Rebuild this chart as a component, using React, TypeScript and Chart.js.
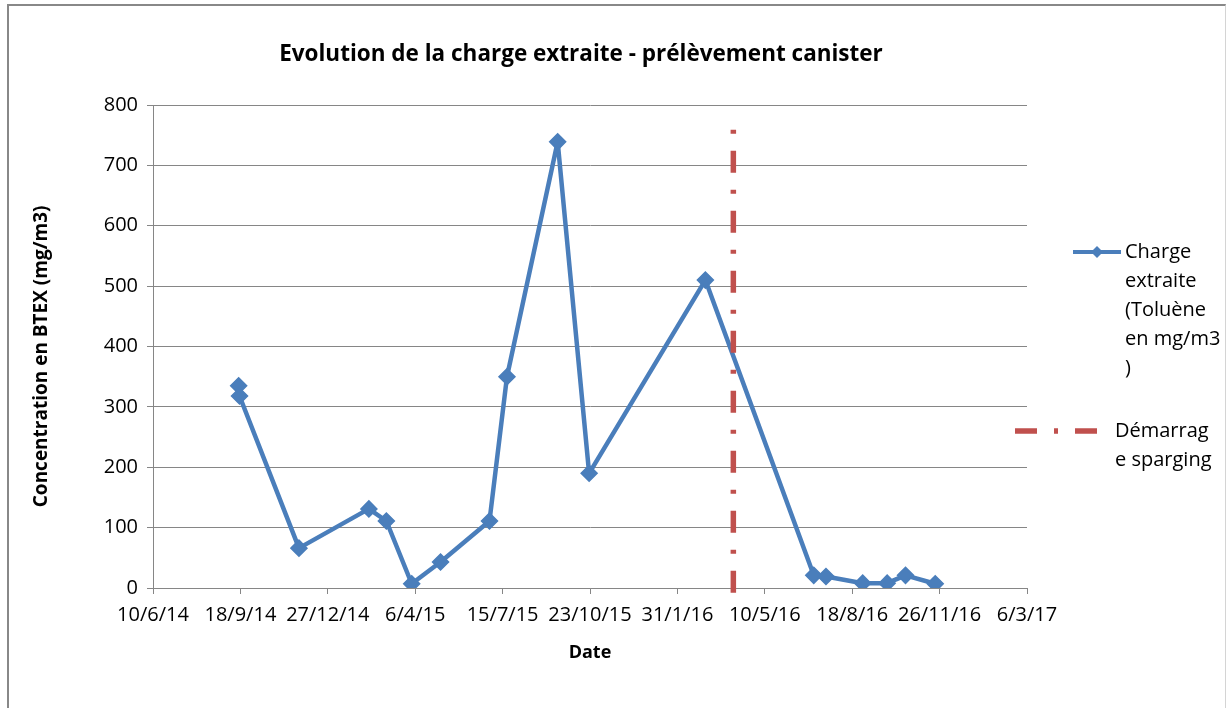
import React, { useEffect, useRef } from "react";
import { Chart, registerables } from "chart.js";

Chart.register(...registerables);

// ---- Data ----
const sampleDates = [
  "2014-09-16", "2014-09-17", "2014-11-24", "2015-02-12", "2015-03-04", "2015-04-02",
  "2015-05-05", "2015-06-30", "2015-07-20", "2015-09-16", "2015-10-22", "2016-03-03",
  "2016-07-05", "2016-07-19", "2016-08-30", "2016-09-27", "2016-10-18", "2016-11-21",
];
const chargeValues = [335, 318, 66, 131, 111, 7, 43, 111, 350, 739, 190, 510, 21, 19, 8, 8, 21, 7];

const spargingDate = "2016-04-04";
const spargingValues = [-8, 765];

const xAxisStart = "2014-06-10";
const xAxisEnd = "2017-03-06";
const xTickStepDays = 100;
const yMin = 0;
const yMax = 800;
const yStep = 100;

const chartTitle = "Evolution de la charge extraite - prélèvement canister";
const xAxisTitle = "Date";
const yAxisTitle = "Concentration en BTEX (mg/m3)";
const chargeLegendLines = ["Charge", "extraite", "(Toluène", "en mg/m3", ")"];
const spargingLegendLines = ["Démarrag", "e sparging"];

// ---- Helpers ----
const EXCEL_EPOCH = Date.UTC(1899, 11, 30);
const DAY = 86400000;
function toSerial(iso: string): number {
  const [y, m, d] = iso.split("-").map(Number);
  return Math.round((Date.UTC(y, m - 1, d) - EXCEL_EPOCH) / DAY);
}
function serialLabel(serial: number): string {
  const dt = new Date(EXCEL_EPOCH + serial * DAY);
  return `${dt.getUTCDate()}/${dt.getUTCMonth() + 1}/${dt.getUTCFullYear() % 100}`;
}

const BLUE = "#4A7EBB";
const RED = "#C0504D";
const GRID = "#868686";
const FONT = "'Open Sans', 'Noto Sans', sans-serif";
const DASH = [22, 17, 4, 17];

const overlayPlugin = {
  id: "overlayTexts",
  afterDraw(chart: any) {
    const ctx = chart.ctx as CanvasRenderingContext2D;
    ctx.save();
    // Title
    ctx.fillStyle = "#000";
    ctx.font = `bold 22.5px ${FONT}`;
    ctx.textAlign = "center";
    ctx.textBaseline = "middle";
    ctx.fillText(chartTitle, 581, 55);

    // Legend: charge extraite
    ctx.strokeStyle = BLUE;
    ctx.lineWidth = 4;
    ctx.beginPath();
    ctx.moveTo(1073, 252);
    ctx.lineTo(1121, 252);
    ctx.stroke();
    ctx.fillStyle = BLUE;
    ctx.beginPath();
    ctx.moveTo(1097 - 6, 252);
    ctx.lineTo(1097, 252 - 6);
    ctx.lineTo(1097 + 6, 252);
    ctx.lineTo(1097, 252 + 6);
    ctx.closePath();
    ctx.fill();

    ctx.fillStyle = "#000";
    ctx.font = `20px ${FONT}`;
    ctx.textAlign = "left";
    ctx.textBaseline = "middle";
    chargeLegendLines.forEach((t, i) => ctx.fillText(t, 1125, 252 + i * 29));

    // Legend: sparging
    ctx.strokeStyle = RED;
    ctx.lineWidth = 5.5;
    ctx.setLineDash(DASH);
    ctx.beginPath();
    ctx.moveTo(1015, 431);
    ctx.lineTo(1098, 431);
    ctx.stroke();
    ctx.setLineDash([]);
    spargingLegendLines.forEach((t, i) => ctx.fillText(t, 1115, 431 + i * 29));
    ctx.restore();
  },
};

export default function App() {
  const canvasRef = useRef<HTMLCanvasElement | null>(null);

  useEffect(() => {
    if (!canvasRef.current) return;
    const sx = toSerial(spargingDate);
    const chart = new Chart(canvasRef.current, {
      type: "line",
      data: {
        datasets: [
          {
            label: "Démarrage sparging",
            data: spargingValues.map((v) => ({ x: sx, y: v })),
            borderColor: RED,
            borderWidth: 5.5,
            borderDash: DASH,
            pointRadius: 0,
            clip: false as any,
            order: 0,
          },
          {
            label: "Charge extraite (Toluène en mg/m3)",
            data: sampleDates.map((d, i) => ({ x: toSerial(d), y: chargeValues[i] })),
            borderColor: BLUE,
            backgroundColor: BLUE,
            borderWidth: 4.5,
            borderJoinStyle: "round",
            pointStyle: "rectRot",
            pointRadius: 8,
            pointBackgroundColor: BLUE,
            pointBorderColor: BLUE,
            pointBorderWidth: 1.5,
            tension: 0,
            order: 1,
          },
        ],
      },
      options: {
        animation: false,
        responsive: false,
        layout: { padding: { left: 0, right: 201, top: 105, bottom: 0 } },
        plugins: {
          legend: { display: false },
          title: { display: false },
          tooltip: { enabled: false },
        },
        scales: {
          x: {
            type: "linear",
            min: toSerial(xAxisStart),
            max: toSerial(xAxisEnd),
            afterFit: (s: any) => {
              s.height = 120;
            },
            afterBuildTicks: (s: any) => {
              const ticks = [];
              for (let v = toSerial(xAxisStart); v <= toSerial(xAxisEnd); v += xTickStepDays) ticks.push({ value: v });
              s.ticks = ticks;
            },
            ticks: {
              callback: (v: any) => serialLabel(Number(v)),
              color: "#000",
              font: { family: FONT, size: 20 },
              padding: 9,
              maxRotation: 0,
              autoSkip: false,
            },
            grid: { drawOnChartArea: false, drawTicks: true, tickLength: 6, color: GRID },
            border: { color: GRID, width: 1 },
            title: {
              display: true,
              text: xAxisTitle,
              color: "#000",
              font: { family: FONT, size: 18, weight: "bold" },
              padding: { top: 0, bottom: 44 },
            },
          },
          y: {
            min: yMin,
            max: yMax,
            afterFit: (s: any) => {
              s.width = 153;
            },
            ticks: {
              stepSize: yStep,
              color: "#000",
              font: { family: FONT, size: 20 },
              padding: 9,
            },
            grid: { color: GRID, tickLength: 6, drawTicks: true },
            border: { color: GRID, width: 1 },
            title: {
              display: true,
              text: yAxisTitle + "    ",
              color: "#000",
              font: { family: FONT, size: 19, weight: "bold" },
              padding: { top: 30, bottom: 0 },
            },
          },
        },
      },
      plugins: [overlayPlugin],
    } as any);
    return () => chart.destroy();
  }, []);

  return (
    <div style={{ position: "absolute", left: 0, top: 0, width: 1228, height: 708, overflow: "hidden", background: "#fff" }}>
      <div
        style={{
          position: "absolute",
          left: 7,
          top: 4,
          width: 1219,
          height: 720,
          borderTop: "2px solid #888",
          borderLeft: "2px solid #888",
          borderRight: "1px solid #d4d4d4",
          boxSizing: "border-box",
        }}
      />
      <canvas ref={canvasRef} width={1228} height={708} style={{ position: "absolute", left: 0, top: 0 }} />
    </div>
  );
}
